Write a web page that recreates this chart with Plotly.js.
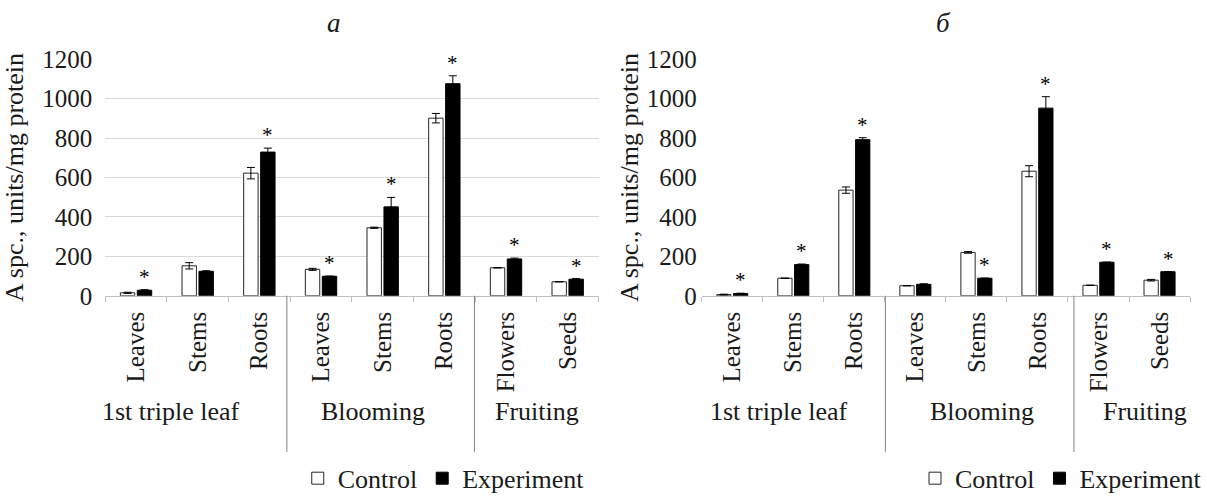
<!DOCTYPE html>
<html>
<head>
<meta charset="utf-8">
<script src="https://cdn.plot.ly/plotly-3.0.1.min.js"></script>
<style>html,body{margin:0;padding:0;background:#fff;}#chart{width:1207px;height:502px;}</style>
</head>
<body>
<div id="chart"></div>
<script>
// ---- data ----
const stages = ['1st triple leaf','1st triple leaf','1st triple leaf','Blooming','Blooming','Blooming','Fruiting','Fruiting'];
const organs = ['Leaves','Stems','Roots','Leaves','Stems','Roots','Flowers','Seeds'];
const groupNames = ['1st triple leaf','Blooming','Fruiting'];
const panelTitles = ['а','б'];
const yTitle = 'A spc., units/mg protein';
const seriesNames = ['Control','Experiment'];

// panel а
const controlA = [15, 152, 622, 134, 345, 901, 142, 71];
const controlAErr = [3, 16, 29, 5, 3, 24, 0, 0];
const experimentA = [28, 124, 729, 99, 451, 1076, 187, 84];
const experimentAErr = [3, 3, 20, 0, 48, 40, 4, 3];
const signifA = [1, 0, 1, 1, 1, 1, 1, 1];

// panel б
const controlB = [6, 89, 536, 51, 220, 632, 53, 79];
const controlBErr = [2, 0, 16, 0, 4, 28, 0, 4];
const experimentB = [11, 158, 792, 58, 89, 952, 170, 122];
const experimentBErr = [2, 3, 10, 3, 0, 58, 0, 0];
const signifB = [1, 1, 1, 0, 1, 1, 1, 1];

const yTicks = [0, 200, 400, 600, 800, 1000, 1200];

// ---- helpers ----
const W = 1207, H = 502;
const px = v => v / W;
const py = v => 1 - v / H;
const keys = organs.map((o, i) => stages[i] + ' | ' + o);
const FONT = 'Liberation Serif, DejaVu Serif, serif';
const TXT = '#1a1a1a';

function barTrace(name, y, err, xa, ya, isExp, legend) {
  return {
    type: 'bar', name: name, x: keys, y: y,
    xaxis: xa, yaxis: ya, legend: legend, showlegend: true,
    marker: {color: isExp ? '#000000' : '#ffffff', line: {color: isExp ? '#000000' : '#262626', width: 1}},
    error_y: {type: 'data', array: err, visible: true, color: '#000000', thickness: 1, width: 4},
    hoverinfo: 'x+y'
  };
}

const data = [
  barTrace(seriesNames[0], controlA, controlAErr, 'x', 'y', false, 'legend'),
  barTrace(seriesNames[1], experimentA, experimentAErr, 'x', 'y', true, 'legend'),
  barTrace(seriesNames[0], controlB, controlBErr, 'x2', 'y3', false, 'legend2'),
  barTrace(seriesNames[1], experimentB, experimentBErr, 'x2', 'y3', true, 'legend2')
];

const annotations = [];
// significance stars above the experiment bars
function stars(vals, errs, sig, xref, yref) {
  vals.forEach((v, i) => {
    if (!sig[i]) return;
    annotations.push({
      x: keys[i], y: v + errs[i], xref: xref, yref: yref,
      text: '*', showarrow: false, xshift: 8.5, yanchor: 'bottom', yshift: -1,
      font: {family: FONT, size: 21, color: '#000'}
    });
  });
}
stars(experimentA, experimentAErr, signifA, 'x', 'y');
stars(experimentB, experimentBErr, signifB, 'x2', 'y3');

// panel titles
[[337, panelTitles[0]], [951, panelTitles[1]]].forEach(([x, t]) => {
  annotations.push({x: px(x), y: py(24), xref: 'paper', yref: 'paper', text: '<i>' + t + '</i>',
    showarrow: false, xanchor: 'center', yanchor: 'middle', font: {family: FONT, size: 27, color: TXT}});
});

// group labels
const groupCentersA = [172, 376, 541];
const groupCentersB = [785, 989, 1154];
groupNames.forEach((g, i) => {
  [groupCentersA[i], groupCentersB[i]].forEach(cx => {
    annotations.push({x: px(cx), y: py(422), xref: 'paper', yref: 'paper', text: g, showarrow: false,
      xanchor: 'center', yanchor: 'middle', font: {family: FONT, size: 26, color: TXT}});
  });
});

// group separators
const shapes = [289, 478, 892, 1082].map(x => ({
  type: 'line', xref: 'paper', yref: 'paper', x0: px(x), x1: px(x), y0: py(303), y1: py(463),
  line: {color: '#808080', width: 1}
}));

const xCommon = {
  type: 'category', tickvals: keys, ticktext: organs, tickangle: -90,
  tickson: 'boundaries', ticks: 'outside', ticklen: 5, tickcolor: '#bfbfbf', ticklabelstandoff: 5,
  showline: true, linecolor: '#bfbfbf', linewidth: 1, showgrid: false, zeroline: false,
  tickfont: {family: FONT, size: 25, color: TXT}, range: [-0.5, 7.5], fixedrange: true
};
const yDomain = [py(303), py(60.7)];
const gridB = [1, 2, 3, 4, 5, 6, 7].map(k => k * 1200 / 7);

const layout = {
  width: W, height: H, margin: {l: 0, r: 0, t: 0, b: 0},
  paper_bgcolor: '#ffffff', plot_bgcolor: 'rgba(0,0,0,0)',
  font: {family: FONT, size: 25, color: TXT},
  barmode: 'group', bargap: 0.45, bargroupgap: 0.15,
  xaxis: Object.assign({}, xCommon, {domain: [px(106), px(603)], anchor: 'y'}),
  yaxis: {domain: yDomain, anchor: 'x', range: [0, 1200], tickvals: yTicks, showgrid: true,
    gridcolor: '#d9d9d9', gridwidth: 1, zeroline: false, ticks: '', ticklabelstandoff: 12,
    tickfont: {family: FONT, size: 25, color: TXT}, fixedrange: true,
    title: {text: yTitle, font: {family: FONT, size: 26, color: TXT}, standoff: 12}},
  xaxis2: Object.assign({}, xCommon, {domain: [px(707), px(1199)], anchor: 'y2'}),
  yaxis2: {domain: yDomain, anchor: 'x2', range: [0, 1200], tickvals: gridB, showgrid: true,
    gridcolor: '#d9d9d9', gridwidth: 1, zeroline: false, ticks: '', showticklabels: false, fixedrange: true},
  yaxis3: {domain: yDomain, overlaying: 'y2', anchor: 'x2', side: 'left', range: [0, 1200], tickvals: yTicks,
    showgrid: false, zeroline: false, ticks: '', ticklabelstandoff: 4,
    tickfont: {family: FONT, size: 25, color: TXT}, fixedrange: true,
    title: {text: yTitle, font: {family: FONT, size: 26, color: TXT}, standoff: 0}},
  legend: {orientation: 'h', x: px(300), y: py(490), xanchor: 'left', yanchor: 'middle',
    font: {family: FONT, size: 26, color: TXT}, bgcolor: 'rgba(0,0,0,0)', traceorder: 'normal'},
  legend2: {orientation: 'h', x: px(922), y: py(490), xanchor: 'left', yanchor: 'middle',
    font: {family: FONT, size: 26, color: TXT}, bgcolor: 'rgba(0,0,0,0)', traceorder: 'normal'},
  annotations: annotations,
  shapes: shapes
};

Plotly.newPlot('chart', data, layout, {displayModeBar: false, staticPlot: true});
</script>
</body>
</html>
